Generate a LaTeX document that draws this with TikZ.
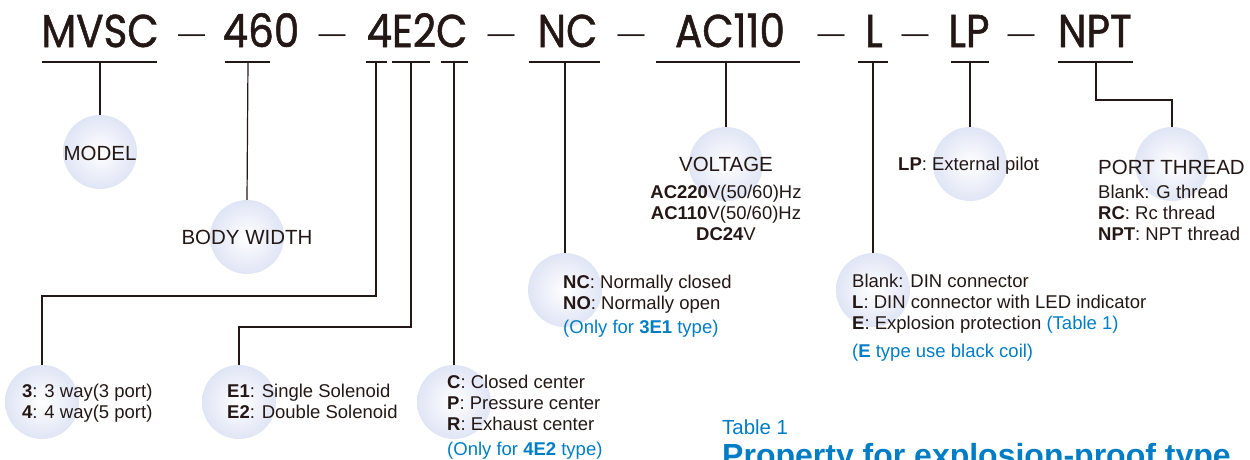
\documentclass[tikz,border=0pt]{standalone}
\usepackage{fontspec}
\setmainfont{Liberation Sans}
\newfontfamily\codefont[FakeBold=1.2]{Poppins}
\definecolor{ink}{RGB}{35,24,21}
\definecolor{note}{RGB}{0,125,197}
\definecolor{bubbleedge}{RGB}{224,229,245}
\newcommand{\codetext}[1]{\scalebox{0.88}[1]{#1}}
\tikzset{
  bubble/.style={circle, minimum size=74pt, inner sep=0pt,
    inner color=white, outer color=bubbleedge},
  code/.style={anchor=base, inner sep=0pt, text=ink,
    font=\codefont\fontsize{46}{46}\selectfont},
  sep/.style={anchor=base, inner sep=0pt, text=ink,
    font=\fontsize{27}{27}\selectfont},
  head/.style={anchor=base, inner sep=0pt, text=ink,
    font=\fontsize{20.5}{24}\selectfont},
  desc/.style={anchor=base west, inner sep=0pt, align=left, text=ink,
    font=\fontsize{18.5}{21}\selectfont},
  remark/.style={desc, text=note},
  link/.style={draw=ink, line width=1.2pt},
}
\begin{document}
\begin{tikzpicture}[x=1pt, y=-1pt]
  \useasboundingbox (0,0) rectangle (1250,459);
  \clip (0,0) rectangle (1250,459);

  % bubbles
  \node[bubble] (model) at (100,152) {};
  \node[bubble] (width) at (247,237) {};
  \node[bubble] (way)   at (42,402) {};
  \node[bubble] (sol)   at (239,402) {};
  \node[bubble] (ctr)   at (454,402) {};
  \node[bubble] (valve) at (565,290) {};
  \node[bubble] (volt)  at (726,164) {};
  \node[bubble] (coil)  at (873,290) {};
  \node[bubble] (pilot) at (970,164) {};
  \node[bubble] (port)  at (1172,164) {};

  % model code
  \node[code] (mvsc)  at (100,47) {\codetext{MVSC}};
  \node[code] (size)  at (261,47) {\codetext{460}};
  \node[code] (func)  at (417,47) {\codetext{4E2C}};
  \node[code] (state) at (567.5,47) {\codetext{NC}};
  \node[code] (power) at (730,47) {\codetext{AC110}};
  \node[code] (lamp)  at (874,47) {\codetext{L}};
  \node[code] (ext)   at (969,47) {\codetext{LP}};
  \node[code] (npt)   at (1095,47) {\codetext{NPT}};
  \foreach \x/\n in {191.5/1, 332/2, 501/3, 631/4, 831/5, 915/6, 1021/7}
    \node[sep] (dash\n) at (\x,42) {—};

  % underlines and stems
  \coordinate (s-model) at (100,62);
  \coordinate (s-width) at (248,62);
  \coordinate (s-way)   at (376,62);
  \coordinate (s-sol)   at (411,62);
  \coordinate (s-ctr)   at (454,62);
  \coordinate (s-valve) at (565,62);
  \coordinate (s-volt)  at (726,62);
  \coordinate (s-coil)  at (873,62);
  \coordinate (s-pilot) at (970,62);
  \coordinate (s-port)  at (1096,62);
  \coordinate (k-way)   at (42,296);
  \coordinate (k-sol)   at (239,327);
  \coordinate (k-port)  at (1172,100);
  \begin{scope}[link]
    \draw (42,62) -- (157,62);
    \draw (225,62) -- (270,62);
    \draw (366,62) -- (387,62);
    \draw (392,62) -- (430,62);
    \draw (441,62) -- (468,62);
    \draw (529,62) -- (600,62);
    \draw (656,62) -- (800,62);
    \draw (858,62) -- (888,62);
    \draw (951,62) -- (989,62);
    \draw (1058,62) -- (1133,62);
    \draw (s-model) -- (model.north);
    \draw (s-width) -- (width.north);
    \draw (s-way) |- (k-way) -- (way.north);
    \draw (s-sol) |- (k-sol) -- (sol.north);
    \draw (s-ctr) -- (ctr.north);
    \draw (s-valve) -- (valve.north);
    \draw (s-volt) -- (volt.north);
    \draw (s-coil) -- (coil.north);
    \draw (s-pilot) -- (pilot.north);
    \draw (s-port) |- (k-port) -- (port.north);
  \end{scope}

  % texts (multi-line nodes sit on their last baseline)
  \node[head] (model-t) at (100,160) {MODEL};
  \node[head] (width-t) at (247,244) {BODY WIDTH};
  \node[desc] (way-t) at (22,418) {\textbf{3}: 3 way(3 port)\\\textbf{4}: 4 way(5 port)};
  \node[desc] (sol-t) at (227,418) {\textbf{E1}: Single Solenoid\\\textbf{E2}: Double Solenoid};
  \node[desc] (ctr-t) at (447,430) {\textbf{C}: Closed center\\\textbf{P}: Pressure center\\\textbf{R}: Exhaust center};
  \node[remark] (ctr-n) at (447,455) {(Only for \textbf{4E2} type)};
  \node[desc] (valve-t) at (563,309) {\textbf{NC}: Normally closed\\\textbf{NO}: Normally open};
  \node[remark] (valve-n) at (563,333) {(Only for \textbf{3E1} type)};
  \node[head] (volt-t) at (726,171) {VOLTAGE};
  \node[desc, anchor=base, align=center] (volt-l) at (726,240)
    {\textbf{AC220}V(50/60)Hz\\\textbf{AC110}V(50/60)Hz\\\textbf{DC24}V};
  \node[desc] (coil-t) at (852,329) {Blank: DIN connector\\\textbf{L}: DIN connector with LED indicator\\\textbf{E}: Explosion protection \textcolor{note}{(Table 1)}};
  \node[remark] (coil-n) at (852,357) {(\textbf{E} type use black coil)};
  \node[desc] (pilot-t) at (898,170) {\textbf{LP}: External pilot};
  \node[head, anchor=base west] (port-t) at (1098,174) {PORT THREAD};
  \node[desc] (port-l) at (1098,240) {Blank: G thread\\\textbf{RC}: Rc thread\\\textbf{NPT}: NPT thread};
  \node[remark, font=\fontsize{20.4}{24}\selectfont] (tab) at (722,434) {Table 1};
  \node[remark, font=\bfseries\fontsize{32}{36}\selectfont] (tab-h) at (722,466) {Property for explosion-proof type};
\end{tikzpicture}
\end{document}
